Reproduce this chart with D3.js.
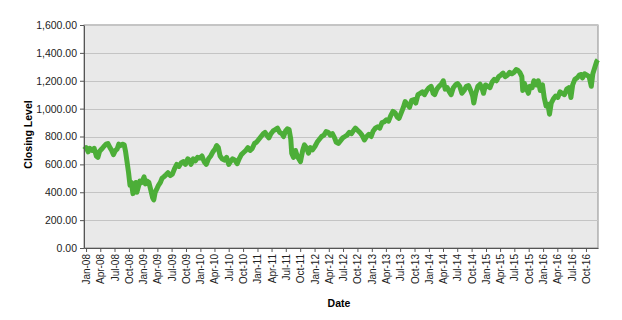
<!DOCTYPE html>
<html>
<head>
<meta charset="utf-8">
<script src="https://cdn.jsdelivr.net/npm/d3@7"></script>
<style>
  html, body { margin:0; padding:0; background:#fff; overflow:hidden; }
  #chart svg { display:block; overflow:visible; }
  #chart text { font-family: "Liberation Sans", Arial, sans-serif; }
</style>
</head>
<body>
<div id="chart"></div>
<script>
// closing levels, roughly every two weeks
let dates = [
  "2007-12-21","2008-01-02","2008-01-15","2008-01-25","2008-02-08","2008-02-22","2008-03-07","2008-03-17","2008-03-28","2008-04-10","2008-04-25",
  "2008-05-09","2008-05-20","2008-06-02","2008-06-13","2008-06-24","2008-07-07","2008-07-18","2008-07-28","2008-08-08","2008-08-20",
  "2008-09-01","2008-09-10","2008-09-19","2008-09-29","2008-10-08","2008-10-17","2008-10-27","2008-11-05","2008-11-14","2008-11-21",
  "2008-12-01","2008-12-10","2008-12-22",
  "2009-01-06","2009-01-15","2009-01-26","2009-02-06","2009-02-17","2009-03-02","2009-03-09","2009-03-18","2009-03-27","2009-04-08",
  "2009-04-20","2009-05-01","2009-05-12","2009-05-26","2009-06-08","2009-06-22","2009-07-06","2009-07-20","2009-08-03","2009-08-17",
  "2009-08-31","2009-09-14","2009-09-28","2009-10-12","2009-10-23","2009-11-02","2009-11-16","2009-11-30","2009-12-14","2009-12-28",
  "2010-01-11","2010-01-25","2010-02-08","2010-02-22","2010-03-08","2010-03-22","2010-04-05","2010-04-15","2010-04-26","2010-05-07",
  "2010-05-20","2010-06-04","2010-06-18","2010-07-01","2010-07-12","2010-07-26","2010-08-09","2010-08-24","2010-09-06","2010-09-20",
  "2010-10-04","2010-10-18","2010-11-01","2010-11-15","2010-11-29","2010-12-13","2010-12-27",
  "2011-01-10","2011-01-24","2011-02-07","2011-02-18","2011-03-01","2011-03-15","2011-03-28","2011-04-11","2011-04-25","2011-05-09",
  "2011-05-23","2011-06-06","2011-06-17","2011-06-30","2011-07-11","2011-07-22","2011-08-02","2011-08-08","2011-08-19","2011-09-01",
  "2011-09-12","2011-09-22","2011-10-03","2011-10-17","2011-10-28","2011-11-10","2011-11-23","2011-12-05","2011-12-19",
  "2012-01-04","2012-01-18","2012-02-01","2012-02-15","2012-03-01","2012-03-15","2012-03-29","2012-04-10","2012-04-24","2012-05-08",
  "2012-05-18","2012-06-01","2012-06-15","2012-06-29","2012-07-13","2012-07-27","2012-08-10","2012-08-24","2012-09-07","2012-09-18",
  "2012-10-02","2012-10-16","2012-10-30","2012-11-15","2012-11-29","2012-12-13","2012-12-28",
  "2013-01-10","2013-01-24","2013-02-07","2013-02-21","2013-03-07","2013-03-21","2013-04-04","2013-04-18","2013-05-02","2013-05-16",
  "2013-05-30","2013-06-12","2013-06-24","2013-07-08","2013-07-22","2013-08-02","2013-08-16","2013-08-30","2013-09-13","2013-09-27",
  "2013-10-09","2013-10-23","2013-11-06","2013-11-20","2013-12-04","2013-12-18",
  "2014-01-02","2014-01-15","2014-01-28","2014-02-07","2014-02-21","2014-03-07","2014-03-21","2014-04-03","2014-04-15","2014-04-28",
  "2014-05-12","2014-05-23","2014-06-06","2014-06-20","2014-07-03","2014-07-17","2014-07-31","2014-08-14","2014-08-28","2014-09-11",
  "2014-09-25","2014-10-08","2014-10-15","2014-10-27","2014-11-10","2014-11-24","2014-12-08","2014-12-16","2014-12-29",
  "2015-01-12","2015-01-26","2015-02-09","2015-02-23","2015-03-09","2015-03-23","2015-04-06","2015-04-20","2015-05-04","2015-05-18",
  "2015-06-01","2015-06-15","2015-06-29","2015-07-13","2015-07-24","2015-08-05","2015-08-18","2015-08-24","2015-09-04","2015-09-14",
  "2015-09-29","2015-10-09","2015-10-23","2015-11-03","2015-11-17","2015-12-01","2015-12-14","2015-12-28",
  "2016-01-08","2016-01-20","2016-02-01","2016-02-11","2016-02-22","2016-03-07","2016-03-21","2016-04-04","2016-04-18","2016-05-02",
  "2016-05-16","2016-05-31","2016-06-13","2016-06-24","2016-06-27","2016-07-08","2016-07-22","2016-08-05","2016-08-19","2016-09-02",
  "2016-09-09","2016-09-23","2016-10-07","2016-10-21","2016-11-04","2016-11-14","2016-11-28","2016-12-09","2016-12-16"
]
let closes = [
  705,720,690,715,700,715,660,650,695,710,730,
  745,750,720,700,670,700,710,745,735,745,
  740,690,620,540,450,470,390,440,470,400,
  440,480,470,
  510,460,480,470,420,360,345,400,420,450,
  470,500,510,525,540,520,530,570,600,585,
  610,620,600,640,630,600,640,625,650,645,
  660,620,600,640,660,690,710,735,720,660,
  640,630,650,600,620,640,630,605,640,670,
  685,700,720,700,715,750,760,
  780,800,820,830,810,790,820,840,850,860,
  830,820,800,840,855,850,780,680,650,700,
  660,640,620,700,740,720,680,720,705,
  730,760,780,800,810,835,830,810,820,790,
  760,750,770,790,800,810,830,820,845,860,
  845,830,810,775,800,815,800,
  840,860,870,860,900,905,920,910,950,980,
  970,940,930,970,1010,1050,1030,1010,1060,1065,
  1040,1100,1110,1120,1100,1130,
  1150,1160,1110,1100,1140,1160,1175,1200,1140,1150,
  1120,1100,1150,1170,1180,1160,1110,1130,1160,1165,
  1130,1090,1040,1110,1160,1175,1140,1110,1170,
  1160,1150,1190,1210,1200,1230,1240,1255,1230,1240,
  1260,1250,1260,1280,1275,1260,1230,1130,1180,1150,
  1110,1160,1150,1200,1170,1200,1130,1170,
  1080,1020,1030,960,1040,1070,1090,1080,1120,1110,
  1100,1140,1150,1100,1080,1170,1210,1220,1240,1245,
  1220,1250,1240,1230,1160,1250,1300,1340,1350
]
let yTicks = [0,200,400,600,800,1000,1200,1400,1600]

let width  = 622,
    height = 320,
    margin = { top:25, left:84, right:24, bottom:72 },
    innerWidth = width - margin.left - margin.right,
    innerHeight = height - margin.top - margin.bottom

let parse = d3.timeParse("%Y-%m-%d")
let data = dates.map((d,i) => ({ Time: parse(d), Close: closes[i] }))

let xScale = d3.scaleTime()
  .domain([parse("2007-12-19"), parse("2016-12-17")])
  .range([0, innerWidth])
let yScale = d3.scaleLinear()
  .domain([0, 1600])
  .range([innerHeight, 0])

let svg = d3.select("#chart").append("svg")
  .attr("width", width)
  .attr("height", height)
let g = svg.append("g").attr("transform", `translate(${margin.left},${margin.top})`)

// plot area
g.append("rect")
  .attr("width", innerWidth)
  .attr("height", innerHeight)
  .attr("fill", "#e9e9e9")
  .attr("stroke", "#8c8c8c")
  .attr("stroke-width", 1)

g.selectAll(".grid").data(yTicks.slice(1)).enter().append("line")
  .attr("class", "grid")
  .attr("x1", 0).attr("x2", innerWidth)
  .attr("y1", d => Math.round(yScale(d)) + 0.5)
  .attr("y2", d => Math.round(yScale(d)) + 0.5)
  .attr("stroke", "#c4c4c4")

let line = d3.line()
  .x(d => xScale(d.Time))
  .y(d => yScale(d.Close))

g.append("path")
  .attr("d", line(data))
  .attr("fill", "none")
  .attr("stroke", "#4cae38")
  .attr("stroke-width", 5)
  .attr("stroke-linejoin", "round")

let yAxis = d3.axisLeft(yScale).tickValues(yTicks).tickFormat(d3.format(",.2f")).tickSize(4).tickSizeOuter(0)
let xAxis = d3.axisBottom(xScale)
  .ticks(d3.timeMonth.every(3))
  .tickFormat(d3.timeFormat("%b-%y"))
  .tickSize(4).tickSizeOuter(0)

let yGroup = g.append("g").call(yAxis)
yGroup.selectAll("text").attr("font-size", 10.5).attr("fill", "#222").attr("x", -7)
yGroup.selectAll("line, path").attr("stroke", "#555")

let xGroup = g.append("g").attr("transform", `translate(0,${innerHeight})`).call(xAxis)
xGroup.selectAll("text")
  .attr("font-size", 10)
  .attr("fill", "#222")
  .attr("transform", "translate(0,6) rotate(-90)")
  .attr("x", 0)
  .attr("y", 0)
  .attr("dy", "0.35em")
  .style("text-anchor", "end")
xGroup.selectAll("line, path").attr("stroke", "#555")

g.append("text")
  .attr("x", innerWidth / 2 - 2)
  .attr("y", innerHeight + 59)
  .attr("text-anchor", "middle")
  .attr("font-size", 10.5)
  .attr("font-weight", "bold")
  .text("Date")

g.append("text")
  .attr("transform", `translate(-52,${innerHeight / 2 - 2}) rotate(-90)`)
  .attr("text-anchor", "middle")
  .attr("font-size", 10.5)
  .attr("font-weight", "bold")
  .text("Closing Level")
</script>
</body>
</html>
